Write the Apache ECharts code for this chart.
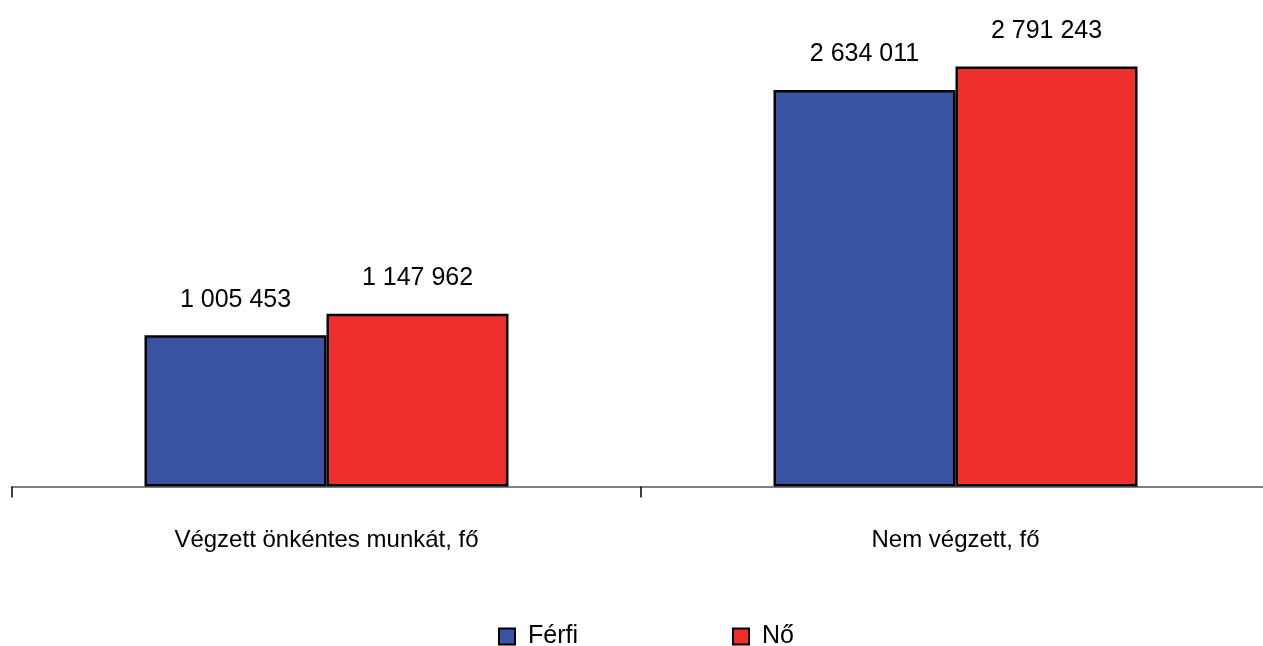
<!DOCTYPE html>
<html>
<head>
<meta charset="utf-8">
<script src="https://cdn.jsdelivr.net/npm/echarts@6/dist/echarts.min.js"></script>
<style>
html,body{margin:0;padding:0;background:#fff;}
#chart{width:1263px;height:646px;}
</style>
</head>
<body>
<div id="chart"></div>
<script>
const categories = ['Végzett önkéntes munkát, fő', 'Nem végzett, fő'];
const seriesNames = ['Férfi', 'Nő'];
const ferfiValues = [1005453, 2634011];
const noValues = [1147962, 2791243];

const FONT = "'Liberation Sans Narrow', 'Arial Narrow', 'Liberation Sans', Arial, sans-serif";
const fmt = v => String(v).replace(/\B(?=(\d{3})+(?!\d))/g, ' ');

const chart = echarts.init(document.getElementById('chart'), null, {renderer: 'canvas'});
const labelCfg = {
  show: true, position: 'top', distance: 23,
  color: '#000', fontFamily: FONT, fontSize: 25,
  formatter: p => fmt(p.value)
};
const legendBase = {
  top: 624, icon: 'rect', itemWidth: 16, itemHeight: 16, padding: 0,
  itemStyle: {borderColor: '#000', borderWidth: 2},
  textStyle: {fontFamily: FONT, fontSize: 25, color: '#000', padding: [0, 0, 0, 8]}
};
chart.setOption({
  animation: false,
  backgroundColor: '#fff',
  grid: {left: 12, width: 1258, top: 35, height: 451.5, containLabel: false, outerBoundsMode: 'none'},
  legend: [
    Object.assign({data: [seriesNames[0]], left: 498}, legendBase),
    Object.assign({data: [seriesNames[1]], left: 732}, legendBase)
  ],
  xAxis: {
    type: 'category', data: categories, boundaryGap: true,
    axisLine: {show: true, lineStyle: {color: '#808080', width: 2}},
    axisTick: {show: true, length: 11, lineStyle: {color: '#000', width: 1.5}},
    axisLabel: {margin: 42, color: '#000', fontFamily: FONT, fontSize: 24}
  },
  yAxis: {
    type: 'value', min: 0, max: 3000000, show: false,
    splitLine: {show: false}
  },
  series: [
    {name: seriesNames[0], type: 'bar', data: ferfiValues, barWidth: 182, barGap: '0%',
     itemStyle: {color: '#3A54A4', borderColor: '#000', borderWidth: 2.5},
     label: labelCfg},
    {name: seriesNames[1], type: 'bar', data: noValues, barWidth: 182, barGap: '0%',
     itemStyle: {color: '#EE2F2B', borderColor: '#000', borderWidth: 2.5},
     label: labelCfg}
  ]
});
</script>
</body>
</html>
